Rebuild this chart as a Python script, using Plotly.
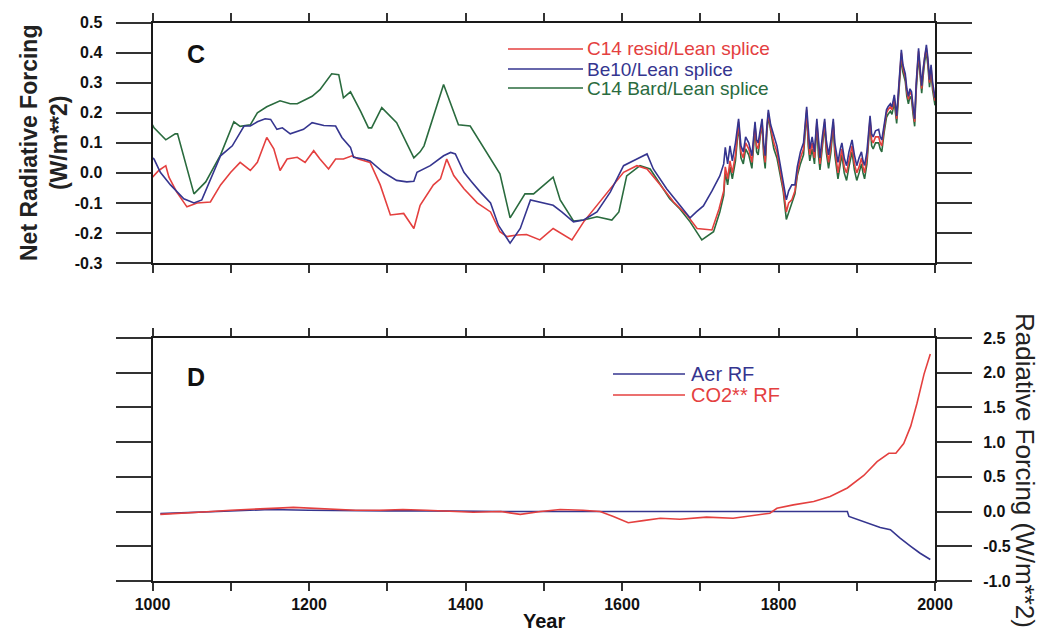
import plotly.graph_objects as go

# ---------------- Panel C data ----------------
BE10_EARLY_YEARS = [1000, 1002, 1010, 1023, 1040, 1053, 1063, 1076, 1087, 1102, 1112, 1117, 1125, 1134, 1144,
                    1151, 1159, 1166, 1176, 1193, 1204, 1219, 1234, 1242, 1253, 1257, 1270, 1278, 1295, 1312,
                    1325, 1334, 1338, 1355, 1372, 1381, 1387, 1398, 1408, 1419, 1432, 1442, 1457, 1470, 1483,
                    1500, 1512, 1523, 1538, 1551, 1568, 1585, 1602, 1619, 1632, 1640, 1657, 1674, 1687, 1695,
                    1704, 1715, 1725]
BE10_EARLY = [0.05, 0.046, 0.002, -0.04, -0.086, -0.10, -0.09, -0.01, 0.057, 0.09, 0.134, 0.156, 0.156, 0.17, 0.18,
              0.178, 0.145, 0.15, 0.13, 0.145, 0.167, 0.158, 0.156, 0.118, 0.085, 0.052, 0.046, 0.04, 0.002, -0.025,
              -0.03, -0.028, 0.002, 0.024, 0.057, 0.068, 0.063, 0.002, -0.03, -0.064, -0.10, -0.174, -0.234, -0.185, -0.09,
              -0.10, -0.108, -0.13, -0.163, -0.157, -0.13, -0.064, 0.024, 0.046, 0.063, 0.013, -0.053, -0.108, -0.15, -0.13,
              -0.11, -0.06, -0.01]

RESID_EARLY_YEARS = [1000, 1008, 1017, 1021, 1031, 1044, 1057, 1074, 1087, 1100, 1112, 1125, 1134, 1146, 1155,
                     1163, 1172, 1185, 1195, 1206, 1214, 1225, 1234, 1244, 1255, 1263, 1278, 1291, 1304, 1321,
                     1334, 1342, 1359, 1368, 1376, 1385, 1398, 1415, 1432, 1444, 1453, 1466, 1478, 1495, 1512,
                     1525, 1536, 1551, 1568, 1585, 1602, 1619, 1632, 1649, 1666, 1683, 1696, 1715, 1724]
RESID_EARLY = [-0.014, 0.008, 0.024, -0.014, -0.064, -0.113, -0.10, -0.097, -0.04, 0.002, 0.035, 0.008, 0.035, 0.118, 0.08,
               0.008, 0.046, 0.052, 0.035, 0.074, 0.046, 0.013, 0.046, 0.046, 0.057, 0.046, 0.035, -0.04, -0.14, -0.135,
               -0.185, -0.108, -0.04, -0.02, 0.046, -0.009, -0.053, -0.10, -0.13, -0.196, -0.212, -0.207, -0.205, -0.223, -0.185,
               -0.207, -0.223, -0.163, -0.108, -0.053, 0.002, 0.024, 0.013, -0.04, -0.097, -0.14, -0.185, -0.19, -0.12]

BARD_EARLY_YEARS = [1000, 1002, 1017, 1029, 1032, 1053, 1068, 1087, 1104, 1112, 1125, 1134, 1146, 1163, 1176,
                    1185, 1204, 1214, 1229, 1238, 1244, 1253, 1266, 1276, 1280, 1293, 1312, 1334, 1342, 1347,
                    1372, 1391, 1406, 1427, 1444, 1457, 1476, 1487, 1512, 1521, 1538, 1551, 1568, 1587, 1596,
                    1606, 1623, 1636, 1661, 1674, 1687, 1702, 1717, 1725]
BARD_EARLY = [0.16, 0.15, 0.11, 0.13, 0.13, -0.07, -0.03, 0.06, 0.17, 0.155, 0.16, 0.20, 0.22, 0.24, 0.23,
              0.23, 0.255, 0.277, 0.33, 0.327, 0.25, 0.27, 0.205, 0.15, 0.15, 0.217, 0.167, 0.05, 0.07, 0.09,
              0.294, 0.16, 0.156, 0.068, -0.003, -0.15, -0.07, -0.07, -0.014, -0.09, -0.16, -0.157, -0.146, -0.157, -0.13,
              -0.01, 0.024, 0.013, -0.086, -0.12, -0.163, -0.223, -0.196, -0.13]

LATE_YEARS = [1730, 1732, 1735, 1738, 1741, 1745, 1749, 1752, 1755, 1758,
              1762, 1766, 1770, 1772, 1774, 1777, 1779, 1781, 1783, 1785,
              1787, 1790, 1794, 1798, 1802, 1806, 1810, 1813, 1817, 1821,
              1824, 1828, 1832, 1836, 1838, 1840, 1843, 1846, 1849, 1851,
              1853, 1856, 1859, 1861, 1864, 1867, 1870, 1872, 1874, 1876,
              1879, 1881, 1884, 1887, 1890, 1894, 1897, 1900, 1903, 1906,
              1908, 1910, 1913, 1917, 1919, 1921, 1924, 1928, 1930, 1932,
              1935, 1938, 1940, 1943, 1945, 1948, 1951, 1954, 1957, 1959,
              1962, 1964, 1966, 1968, 1970, 1972, 1974, 1976, 1979, 1981,
              1983, 1985, 1987, 1989, 1991, 1993, 1995, 1997, 2000]
BE10_LATE = [0.03, 0.085, 0.03, 0.09, 0.04, 0.10, 0.18, 0.09, 0.07, 0.12,
             0.10, 0.057, 0.17, 0.11, 0.10, 0.15, 0.18, 0.10, 0.057, 0.15,
             0.21, 0.16, 0.12, 0.09, 0.03, -0.03, -0.09, -0.06, -0.04, -0.04,
             0.02, 0.07, 0.10, 0.22, 0.13, 0.08, 0.12, 0.07, 0.18, 0.10,
             0.05, 0.12, 0.18, 0.11, 0.06, 0.11, 0.18, 0.10, 0.06, 0.035,
             0.08, 0.10, 0.05, 0.024, 0.07, 0.11, 0.06, 0.024, 0.05, 0.07,
             0.04, 0.025, 0.07, 0.19, 0.13, 0.12, 0.14, 0.145, 0.12, 0.11,
             0.16, 0.21, 0.22, 0.23, 0.22, 0.26, 0.19, 0.30, 0.41, 0.36,
             0.33, 0.28, 0.255, 0.28, 0.27, 0.22, 0.18, 0.30, 0.415, 0.35,
             0.29, 0.35, 0.40, 0.426, 0.38, 0.31, 0.36, 0.30, 0.25]
RESID_LATE = [-0.06, 0.02, -0.02, 0.04, 0.0, 0.06, 0.17, 0.07, 0.05, 0.10,
              0.08, 0.035, 0.16, 0.09, 0.08, 0.14, 0.17, 0.08, 0.035, 0.14,
              0.20, 0.15, 0.10, 0.07, 0.01, -0.05, -0.13, -0.10, -0.09, -0.06,
              0.0, 0.05, 0.08, 0.21, 0.11, 0.06, 0.10, 0.05, 0.17, 0.08,
              0.03, 0.10, 0.17, 0.09, 0.035, 0.09, 0.17, 0.08, 0.035, 0.0,
              0.05, 0.08, 0.02, 0.0, 0.04, 0.09, 0.03, 0.0, 0.02, 0.05,
              0.02, 0.0, 0.05, 0.18, 0.11, 0.10, 0.12, 0.12, 0.10, 0.09,
              0.15, 0.20, 0.21, 0.22, 0.21, 0.25, 0.18, 0.29, 0.40, 0.35,
              0.32, 0.27, 0.245, 0.27, 0.26, 0.21, 0.17, 0.29, 0.405, 0.34,
              0.28, 0.34, 0.39, 0.415, 0.37, 0.30, 0.35, 0.29, 0.24]
BARD_LATE = [-0.075, 0.0, -0.04, 0.02, -0.02, 0.04, 0.16, 0.05, 0.03, 0.08,
             0.06, 0.015, 0.15, 0.07, 0.06, 0.13, 0.16, 0.06, 0.015, 0.13,
             0.19, 0.14, 0.08, 0.05, -0.01, -0.06, -0.155, -0.13, -0.10, -0.07,
             -0.01, 0.03, 0.06, 0.20, 0.09, 0.04, 0.08, 0.03, 0.16, 0.06,
             0.01, 0.08, 0.16, 0.07, 0.015, 0.07, 0.16, 0.06, 0.015, -0.02,
             0.03, 0.06, 0.0, -0.025, 0.02, 0.07, 0.01, -0.025, 0.0, 0.03,
             0.0, -0.02, 0.03, 0.17, 0.09, 0.08, 0.10, 0.10, 0.08, 0.07,
             0.135, 0.185, 0.195, 0.205, 0.195, 0.235, 0.165, 0.275, 0.385, 0.335,
             0.305, 0.255, 0.23, 0.255, 0.245, 0.195, 0.155, 0.275, 0.39, 0.325,
             0.265, 0.325, 0.375, 0.40, 0.355, 0.285, 0.335, 0.275, 0.225]

# ---------------- Panel D data ----------------
CO2_YEARS = [1010, 1030, 1050, 1075, 1100, 1130, 1160, 1180, 1200, 1230, 1260, 1290, 1320, 1350, 1380,
             1410, 1445, 1470, 1496, 1521, 1550, 1572, 1589, 1608, 1627, 1649, 1674, 1708, 1742, 1772,
             1789, 1798, 1819, 1845, 1866, 1888, 1909, 1926, 1941, 1950, 1960, 1969, 1977, 1986, 1994]
CO2_RF = [-0.04, -0.03, -0.01, 0.0, 0.02, 0.04, 0.05, 0.06, 0.05, 0.03, 0.02, 0.02, 0.03, 0.02, 0.0,
          -0.01, 0.0, -0.04, 0.0, 0.03, 0.02, 0.0, -0.07, -0.16, -0.13, -0.096, -0.11, -0.08, -0.096, -0.048,
          -0.024, 0.048, 0.096, 0.144, 0.216, 0.34, 0.52, 0.72, 0.84, 0.84, 0.98, 1.23, 1.56, 1.98, 2.27]

AER_YEARS = [1010, 1050, 1100, 1150, 1200, 1250, 1300, 1350, 1400, 1450, 1500, 1550, 1600, 1700, 1800,
             1888, 1890, 1900, 1913, 1930, 1943, 1955, 1969, 1981, 1994]
AER_RF = [-0.03, -0.01, 0.01, 0.03, 0.02, 0.01, 0.01, 0.01, 0.0, 0.0, 0.0, 0.0, 0.0, 0.0, 0.0,
          0.0, -0.07, -0.11, -0.17, -0.23, -0.26, -0.38, -0.50, -0.60, -0.69]

# ---------------- Tick labels ----------------
X_TICKVALS = [1000, 1100, 1200, 1300, 1400, 1500, 1600, 1700, 1800, 1900, 2000]
X_TICKTEXT = ["1000", "", "1200", "", "1400", "", "1600", "", "1800", "", "2000"]
C_TICKVALS = [-0.3, -0.2, -0.1, 0.0, 0.1, 0.2, 0.3, 0.4, 0.5]
C_TICKTEXT = ["-0.3", "-0.2", "-0.1", "0.0", "0.1", "0.2", "0.3", "0.4", "0.5"]
D_TICKVALS = [-1.0, -0.5, 0.0, 0.5, 1.0, 1.5, 2.0, 2.5]
D_TICKTEXT = ["-1.0", "-0.5", "0.0", "0.5", "1.0", "1.5", "2.0", "2.5"]

# ---------------- Styling ----------------
W, H = 1046, 634
RED = "#e4403f"
BLUE = "#35358f"
GREEN = "#2a6b3e"
FONT = "Liberation Sans, Arial, sans-serif"


def fx(p):
    return p / W


def fy(p):
    return 1 - p / H


X0, X1 = 152.5, 935
C_TOP, C_BOT = 22.7, 263
D_TOP, D_BOT = 338, 581

fig = go.Figure()

# Panel C
fig.add_trace(go.Scatter(x=BARD_EARLY_YEARS + LATE_YEARS, y=BARD_EARLY + BARD_LATE, mode="lines",
                         line=dict(color=GREEN, width=1.6), xaxis="x", yaxis="y", showlegend=False))
fig.add_trace(go.Scatter(x=RESID_EARLY_YEARS + LATE_YEARS, y=RESID_EARLY + RESID_LATE, mode="lines",
                         line=dict(color=RED, width=1.6), xaxis="x", yaxis="y", showlegend=False))
fig.add_trace(go.Scatter(x=BE10_EARLY_YEARS + LATE_YEARS, y=BE10_EARLY + BE10_LATE, mode="lines",
                         line=dict(color=BLUE, width=1.6), xaxis="x", yaxis="y", showlegend=False))
# Panel D
fig.add_trace(go.Scatter(x=AER_YEARS, y=AER_RF, mode="lines",
                         line=dict(color=BLUE, width=1.6), xaxis="x2", yaxis="y2", showlegend=False))
fig.add_trace(go.Scatter(x=CO2_YEARS, y=CO2_RF, mode="lines",
                         line=dict(color=RED, width=1.6), xaxis="x2", yaxis="y2", showlegend=False))

axis_common = dict(showgrid=False, zeroline=False, showline=True, linecolor="#1a1a1a", linewidth=2,
                   mirror="ticks", ticks="outside", tickcolor="#333333", tickwidth=2)
tickfont = dict(family=FONT, size=16, color="#111111", weight="bold")

fig.update_layout(
    width=W, height=H, template="none",
    margin=dict(l=0, r=0, t=0, b=0),
    paper_bgcolor="white", plot_bgcolor="white",
    font=dict(family=FONT, color="#111111"),
    xaxis=dict(domain=[fx(X0), fx(X1)], range=[1000, 2000], anchor="y",
               tickvals=X_TICKVALS, showticklabels=False, ticklen=8, automargin=False, **axis_common),
    yaxis=dict(domain=[fy(C_BOT), fy(C_TOP)], range=[-0.3, 0.5], anchor="x",
               tickvals=C_TICKVALS, ticktext=C_TICKTEXT, ticklen=35, tickfont=tickfont,
               ticklabelstandoff=10, automargin=False, **axis_common),
    xaxis2=dict(domain=[fx(X0), fx(X1)], range=[1000, 2000], anchor="y2",
                tickvals=X_TICKVALS, ticktext=X_TICKTEXT, ticklen=8, tickfont=tickfont,
                automargin=False, **axis_common),
    yaxis2=dict(domain=[fy(D_BOT), fy(D_TOP)], range=[-1.0, 2.5], anchor="x2", side="right",
                tickvals=D_TICKVALS, ticktext=D_TICKTEXT, ticklen=35, tickfont=tickfont,
                ticklabelstandoff=8, automargin=False, **axis_common),
)


def note(text, x, y, size, color="#111111", angle=0, xanchor="center"):
    return dict(text=text, x=fx(x), y=fy(y), xref="paper", yref="paper", showarrow=False,
                xanchor=xanchor, yanchor="middle", textangle=angle, font=dict(size=size, color=color))


annotations = [
    note("<b>Net Radiative Forcing</b><br><b>(W/m**2)</b>", 44, 143, 23, "#222222", -90),
    note("Radiative Forcing (W/m**2)", 1025, 470, 26, "#222222", 90),
    note("<b>Year</b>", 544, 621, 20),
    note("<b>C</b>", 196, 54, 25),
    note("<b>D</b>", 196, 377, 25),
]

shapes = []
legend_c = [("C14 resid/Lean splice", RED, 49), ("Be10/Lean splice", BLUE, 69), ("C14 Bard/Lean splice", GREEN, 88)]
for label, col, yy in legend_c:
    shapes.append(dict(type="line", xref="paper", yref="paper", x0=fx(508), x1=fx(583), y0=fy(yy), y1=fy(yy),
                       line=dict(color=col, width=1.6)))
    annotations.append(note(label, 585, yy, 19, col, 0, "left"))

legend_d = [("Aer RF", BLUE, 374), ("CO2** RF", RED, 395)]
for label, col, yy in legend_d:
    shapes.append(dict(type="line", xref="paper", yref="paper", x0=fx(613), x1=fx(685), y0=fy(yy), y1=fy(yy),
                       line=dict(color=col, width=1.6)))
    annotations.append(note(label, 689, yy, 20, col, 0, "left"))

fig.update_layout(annotations=annotations, shapes=shapes)

fig.write_html("out.html", config={"displayModeBar": False},
               post_script="document.body.style.margin='0';document.body.style.overflow='hidden';")
